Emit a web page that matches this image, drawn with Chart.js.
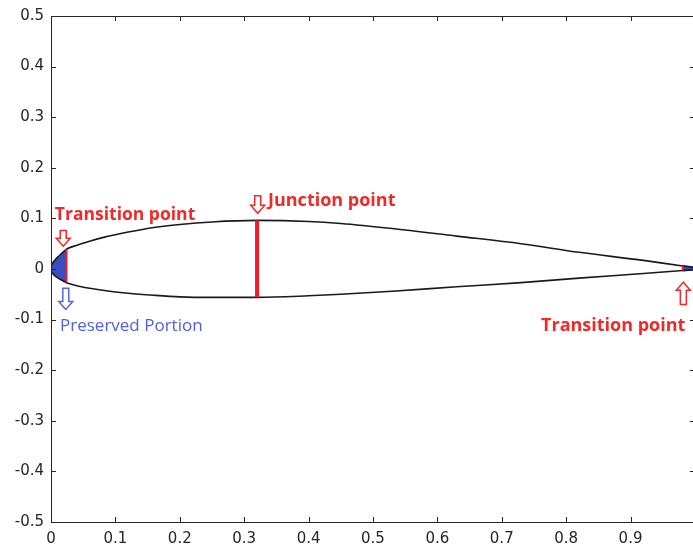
<!DOCTYPE html>
<html>
<head>
<meta charset="utf-8">
<script src="https://cdn.jsdelivr.net/npm/chart.js@4.4.1/dist/chart.umd.min.js"></script>
<style>
  html, body { margin: 0; padding: 0; background: #fff; }
  canvas { display: block; }
</style>
</head>
<body>
<canvas id="airfoilChart" width="693" height="550"></canvas>
<script>
// chord stations shared by both surfaces
var chordX = [0, 0.0005, 0.001, 0.002, 0.005, 0.01, 0.015, 0.024, 0.04, 0.06, 0.08, 0.12, 0.16, 0.2, 0.25, 0.32, 0.4, 0.45, 0.53, 0.63, 0.73, 0.82, 0.92, 0.981, 1.0];
var upperY = [0, 0.005, 0.007, 0.010, 0.016, 0.023, 0.029, 0.039, 0.047, 0.055, 0.062, 0.073, 0.082, 0.088, 0.093, 0.096, 0.094, 0.090, 0.080, 0.065, 0.050, 0.033, 0.017, 0.006, 0.003];
var lowerY = [0, -0.005, -0.006, -0.008, -0.012, -0.017, -0.021, -0.027, -0.033, -0.038, -0.042, -0.048, -0.052, -0.055, -0.056, -0.056, -0.053, -0.050, -0.044, -0.035, -0.027, -0.018, -0.009, -0.003, -0.001];

var leadTransitionX = 0.024;
var junctionX = 0.32;
var trailTransitionX = 0.981;

var xTickStep = 0.1;
var yTickStep = 0.1;

var notes = [
  { text: 'Transition point', x: 0.006, y: 0.106, color: '#ee2a2a', weight: 'bold', size: 17.5 },
  { text: 'Junction point', x: 0.337, y: 0.134, color: '#ee2a2a', weight: 'bold', size: 18 },
  { text: 'Preserved Portion', x: 0.014, y: -0.112, color: '#5060e0', weight: 'normal', size: 17 },
  { text: 'Transition point', x: 0.761, y: -0.112, color: '#ee2a2a', weight: 'bold', size: 18 }
];
var arrows = [
  { x: 0.019, tail: 0.076, tip: 0.045, color: '#ee2a2a' },
  { x: 0.321, tail: 0.145, tip: 0.110, color: '#ee2a2a' },
  { x: 0.023, tail: -0.038, tip: -0.080, color: '#5566dd' },
  { x: 0.982, tail: -0.070, tip: -0.026, color: '#ee2a2a' }
];

function pts(xs, ys) {
  return xs.map(function(v, i) { return { x: v, y: ys[i] }; });
}
function between(xs, ys, a, b) {
  var out = [];
  xs.forEach(function(v, i) { if (v >= a - 1e-9 && v <= b + 1e-9) out.push({ x: v, y: ys[i] }); });
  return out;
}
function yAt(xs, ys, v) {
  return ys[xs.indexOf(v)];
}

var airfoilNotes = {
  id: 'airfoilNotes',
  afterDatasetsDraw: function(chart) {
    var ctx = chart.ctx, a = chart.chartArea, xs = chart.scales.x, ys = chart.scales.y;
    var right = xs.getPixelForValue(1);
    ctx.save();
    // box and inward ticks, matlab style
    ctx.strokeStyle = '#262626';
    ctx.lineWidth = 1;
    ctx.beginPath();
    ctx.moveTo(a.left + 0.5, a.top + 0.5);
    ctx.lineTo(a.left + 0.5, a.bottom + 0.5);
    ctx.lineTo(right, a.bottom + 0.5);
    ctx.moveTo(a.left + 0.5, a.top + 0.5);
    ctx.lineTo(right, a.top + 0.5);
    ctx.lineTo(right, a.bottom + 0.5);
    xs.ticks.forEach(function(t) {
      var px = Math.round(xs.getPixelForValue(t.value)) + 0.5;
      ctx.moveTo(px, a.bottom); ctx.lineTo(px, a.bottom - 5);
      ctx.moveTo(px, a.top); ctx.lineTo(px, a.top + 5);
    });
    ys.ticks.forEach(function(t) {
      var py = Math.round(ys.getPixelForValue(t.value)) + 0.5;
      ctx.moveTo(a.left, py); ctx.lineTo(a.left + 5, py);
      ctx.moveTo(right, py); ctx.lineTo(right - 5, py);
    });
    ctx.stroke();

    // hollow block arrows
    arrows.forEach(function(ar) {
      var cx = xs.getPixelForValue(ar.x);
      var tip = ys.getPixelForValue(ar.tip);
      var tail = ys.getPixelForValue(ar.tail);
      var dir = tip > tail ? 1 : -1;
      var head = 8, hw = 7, sw = 3;
      var hb = tip - dir * head;
      ctx.beginPath();
      ctx.moveTo(cx, tip);
      ctx.lineTo(cx - hw, hb);
      ctx.lineTo(cx - sw, hb);
      ctx.lineTo(cx - sw, tail);
      ctx.lineTo(cx + sw, tail);
      ctx.lineTo(cx + sw, hb);
      ctx.lineTo(cx + hw, hb);
      ctx.closePath();
      ctx.fillStyle = '#ffffff';
      ctx.fill();
      ctx.strokeStyle = ar.color;
      ctx.lineWidth = 1.5;
      ctx.stroke();
    });

    // text labels
    ctx.textAlign = 'left';
    ctx.textBaseline = 'middle';
    notes.forEach(function(n) {
      ctx.font = n.weight + ' ' + n.size + 'px "Open Sans", "Noto Sans", sans-serif';
      ctx.fillStyle = n.color;
      ctx.fillText(n.text, xs.getPixelForValue(n.x), ys.getPixelForValue(n.y));
    });
    ctx.restore();
  }
};

function tickLabel(v) {
  if (Math.abs(v) < 1e-9) return '0';
  return String(Number(v.toFixed(1)));
}

var blue = '#3b4cc0';
var red = '#ee1c25';

var chart_airfoil = new Chart(document.getElementById('airfoilChart'), {
  type: 'line',
  data: {
    datasets: [
      {
        label: 'junction',
        data: [{ x: junctionX, y: yAt(chordX, lowerY, junctionX) }, { x: junctionX, y: yAt(chordX, upperY, junctionX) }],
        borderColor: red, borderWidth: 4, pointRadius: 0, order: 0
      },
      {
        label: 'leading transition',
        data: [{ x: leadTransitionX, y: yAt(chordX, lowerY, leadTransitionX) }, { x: leadTransitionX, y: yAt(chordX, upperY, leadTransitionX) }],
        borderColor: red, borderWidth: 2, pointRadius: 0, order: 0
      },
      {
        label: 'trailing transition',
        data: [{ x: trailTransitionX, y: yAt(chordX, lowerY, trailTransitionX) }, { x: trailTransitionX, y: yAt(chordX, upperY, trailTransitionX) }],
        borderColor: red, borderWidth: 1.5, pointRadius: 0, order: 0
      },
      {
        label: 'upper surface',
        data: pts(chordX, upperY),
        borderColor: '#1a1a1a', borderWidth: 1.6, pointRadius: 0,
        cubicInterpolationMode: 'monotone', order: 1
      },
      {
        label: 'lower surface',
        data: pts(chordX, lowerY),
        borderColor: '#1a1a1a', borderWidth: 1.6, pointRadius: 0,
        cubicInterpolationMode: 'monotone', order: 1
      },
      {
        label: 'preserved LE upper',
        data: between(chordX, upperY, 0, leadTransitionX),
        borderWidth: 0, pointRadius: 0, backgroundColor: blue, fill: '+1',
        cubicInterpolationMode: 'monotone', order: 2
      },
      {
        label: 'preserved LE lower',
        data: between(chordX, lowerY, 0, leadTransitionX),
        borderWidth: 0, pointRadius: 0, fill: false,
        cubicInterpolationMode: 'monotone', order: 2
      },
      {
        label: 'preserved TE upper',
        data: between(chordX, upperY, trailTransitionX, 1),
        borderColor: blue, borderWidth: 2, pointRadius: 0, backgroundColor: blue, fill: '+1', order: 2
      },
      {
        label: 'preserved TE lower',
        data: between(chordX, lowerY, trailTransitionX, 1),
        borderColor: blue, borderWidth: 2, pointRadius: 0, fill: false, order: 2
      }
    ]
  },
  options: {
    animation: false,
    responsive: false,
    layout: { padding: { top: 14, right: 0, left: 0, bottom: 0 } },
    plugins: {
      legend: { display: false },
      tooltip: { enabled: false }
    },
    scales: {
      x: {
        type: 'linear',
        min: 0,
        max: 0.997,
        grid: { display: false, drawTicks: false },
        border: { display: false },
        ticks: {
          stepSize: xTickStep,
          includeBounds: false,
          autoSkip: false,
          maxRotation: 0,
          padding: 8,
          color: '#262626',
          font: { family: '"DejaVu Sans", sans-serif', size: 15 },
          callback: function(value) { return tickLabel(value); }
        },
        afterFit: function(scale) { scale.height = 28; }
      },
      y: {
        type: 'linear',
        min: -0.5,
        max: 0.5,
        grid: { display: false, drawTicks: false },
        border: { display: false },
        ticks: {
          stepSize: yTickStep,
          autoSkip: false,
          padding: 7,
          color: '#262626',
          font: { family: '"DejaVu Sans", sans-serif', size: 15 },
          callback: function(value) { return tickLabel(value); }
        },
        afterFit: function(scale) { scale.width = 51; }
      }
    }
  },
  plugins: [airfoilNotes]
});
</script>
</body>
</html>
